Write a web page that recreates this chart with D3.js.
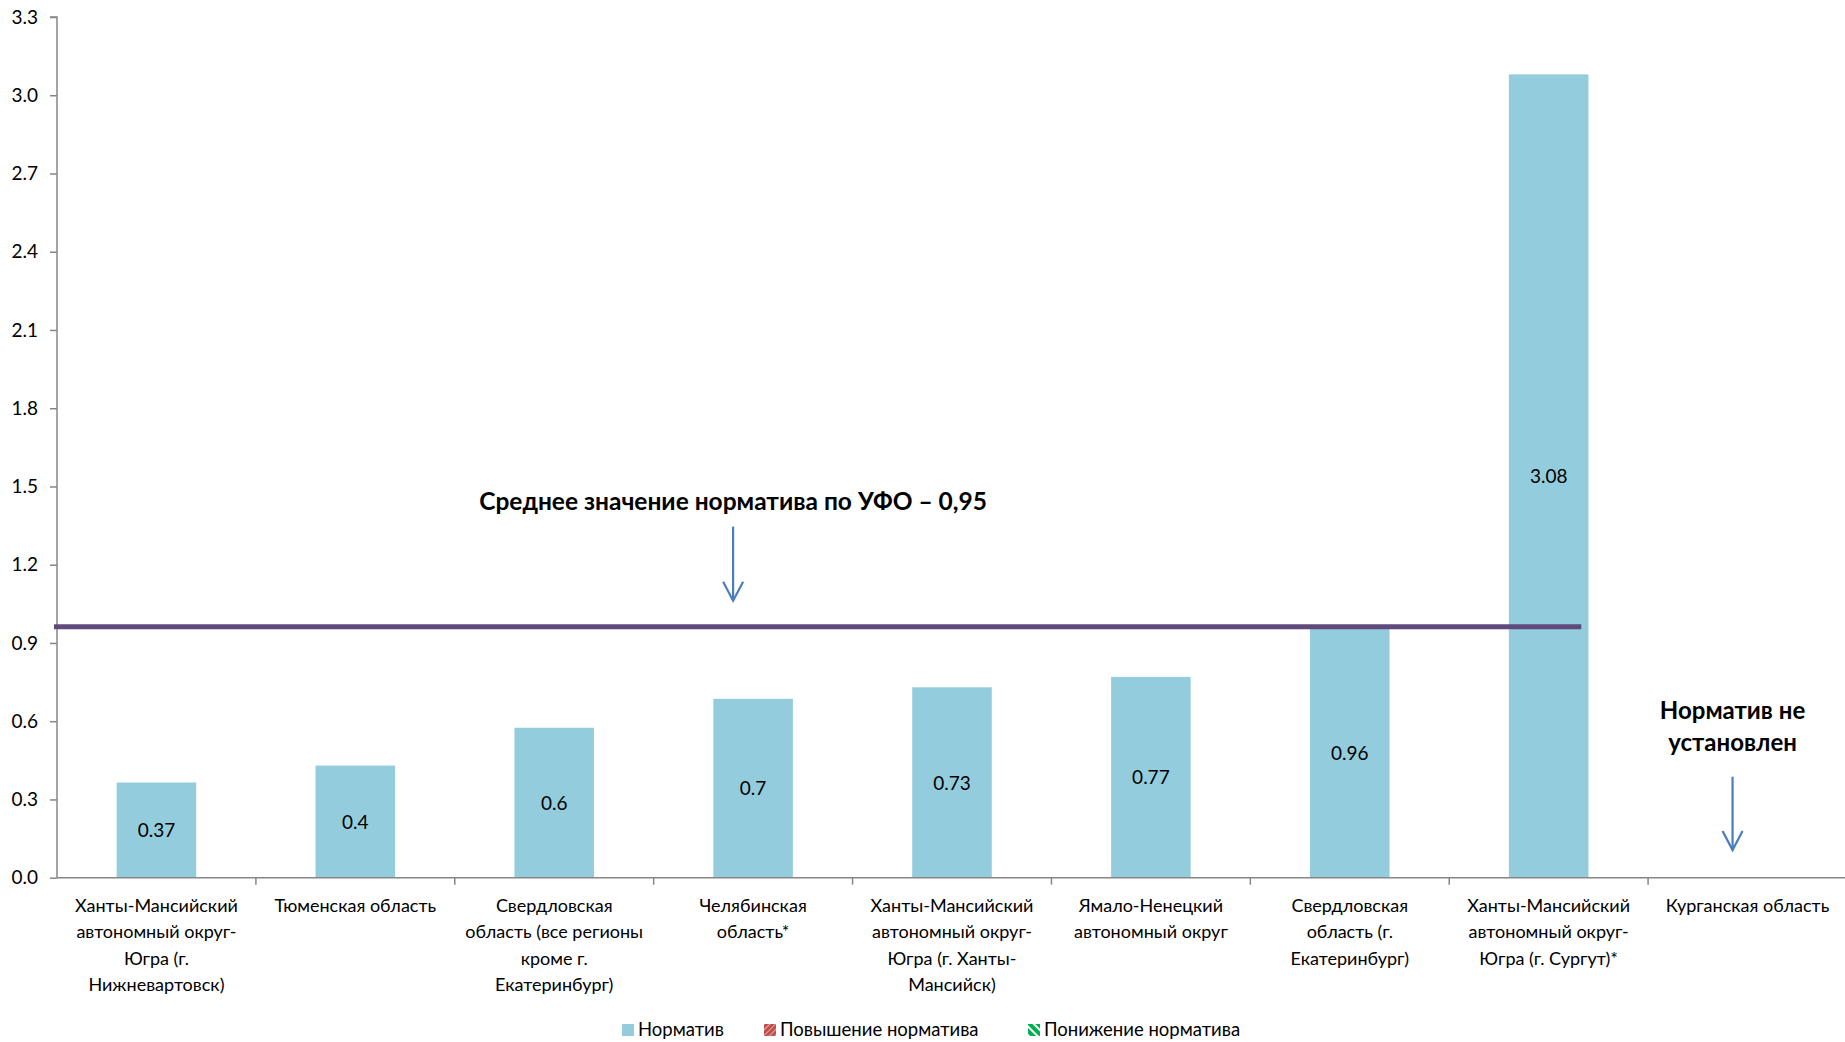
<!DOCTYPE html>
<html><head><meta charset="utf-8">
<script src="https://cdn.jsdelivr.net/npm/d3@7"></script>
<style>body{margin:0;background:#fff}svg{display:block}text{font-family:Lato,"Open Sans",sans-serif}</style>
</head><body>
<svg id="c" width="1845" height="1042"></svg>
<script>
const categories = [
  ["Ханты-Мансийский","автономный округ-","Югра (г.","Нижневартовск)"],
  ["Тюменская область"],
  ["Свердловская","область (все регионы","кроме г.","Екатеринбург)"],
  ["Челябинская","область*"],
  ["Ханты-Мансийский","автономный округ-","Югра (г. Ханты-","Мансийск)"],
  ["Ямало-Ненецкий","автономный округ"],
  ["Свердловская","область (г.","Екатеринбург)"],
  ["Ханты-Мансийский","автономный округ-","Югра (г. Сургут)*"],
  ["Курганская область"]
];
// bar heights as drawn in the picture, and the data labels printed on them
const values = [0.365, 0.43, 0.575, 0.686, 0.73, 0.77, 0.96, 3.08, null];
const valueLabels = ["0.37", "0.4", "0.6", "0.7", "0.73", "0.77", "0.96", "3.08", null];
const yTicks = [0, 0.3, 0.6, 0.9, 1.2, 1.5, 1.8, 2.1, 2.4, 2.7, 3.0, 3.3];
const avgValue = 0.962;
const avgLabel = "Среднее значение норматива по УФО – 0,95";
const noValueLabel = ["Норматив не", "установлен"];
const legendLabels = ["Норматив", "Повышение норматива", "Понижение норматива"];

const svg = d3.select("#c");
const M = {left:57, right:1847, top:17, bottom:877.7};
const ids = categories.map((c,i)=>i);
const x = d3.scaleBand().domain(ids).range([M.left, M.right]).paddingInner(0.6).paddingOuter(0.3);
const step = x.step();
const y = d3.scaleLinear().domain([0, 3.3]).range([M.bottom, M.top]);

const defs = svg.append("defs");
const f = defs.append("filter").attr("id","sh").attr("x","-5%").attr("y","-200%").attr("width","110%").attr("height","500%");
f.append("feGaussianBlur").attr("stdDeviation",1.5);
const p1 = defs.append("pattern").attr("id","pRed").attr("width",4).attr("height",4).attr("patternUnits","userSpaceOnUse").attr("patternTransform","rotate(45)");
p1.append("rect").attr("width",4).attr("height",4).attr("fill","#c0504d");
p1.append("rect").attr("width",1).attr("height",4).attr("fill","#e6a9a7");
const p2 = defs.append("pattern").attr("id","pGreen").attr("width",6).attr("height",6).attr("patternUnits","userSpaceOnUse").attr("patternTransform","rotate(-45)");
p2.append("rect").attr("width",6).attr("height",6).attr("fill","#00b050");
p2.append("rect").attr("width",2).attr("height",6).attr("fill","#fff");

const data = values.map((v,i)=>({v,i,l:valueLabels[i]})).filter(d=>d.v!=null);

// bars
svg.append("g").selectAll("rect").data(data)
  .join("rect").attr("x",d=>x(d.i)).attr("width",x.bandwidth())
  .attr("y",d=>y(d.v)).attr("height",d=>y(0)-y(d.v)).attr("fill","#93cddd");

// y axis
const ya = svg.append("g").attr("transform",`translate(${M.left},0)`)
  .call(d3.axisLeft(y).tickValues(yTicks).tickFormat(d3.format(".1f")).tickSize(7).tickPadding(12));
ya.select(".domain").attr("stroke","#868686").attr("stroke-width",1.5).attr("d",`M-7,${y(3.3)}H0V${y(0)}`);
ya.selectAll(".tick line").attr("stroke","#868686").attr("stroke-width",1.5);
ya.selectAll(".tick text").attr("font-size",19).attr("fill","#000").attr("font-family","Lato, sans-serif");

// x axis
const xg = svg.append("g");
xg.append("line").attr("x1",M.left).attr("x2",1845).attr("y1",y(0)).attr("y2",y(0)).attr("stroke","#868686").attr("stroke-width",1.5);
xg.selectAll("line.t").data(d3.range(categories.length)).join("line").attr("class","t")
  .attr("x1",i=>M.left+(i+1)*step).attr("x2",i=>M.left+(i+1)*step)
  .attr("y1",y(0)).attr("y2",y(0)+7).attr("stroke","#868686").attr("stroke-width",1.5);
categories.forEach((lines,i)=>{
  const t = xg.append("text").attr("text-anchor","middle").attr("font-size",18).attr("fill","#000");
  lines.forEach((l,j)=>t.append("tspan").attr("x",x(i)+x.bandwidth()/2).attr("y",y(0)+34+j*26.5).text(l));
});

// value labels
svg.append("g").selectAll("text").data(data)
  .join("text").attr("x",d=>x(d.i)+x.bandwidth()/2).attr("y",d=>(y(d.v)+y(0))/2+7)
  .attr("text-anchor","middle").attr("font-size",19).attr("fill","#000").text(d=>d.l);

// average line
const lx0 = M.left-3, lx1 = x(7)+x.bandwidth()*0.91;
svg.append("line").attr("x1",lx0).attr("x2",lx1).attr("y1",y(avgValue)+3).attr("y2",y(avgValue)+3)
  .attr("stroke","#888").attr("stroke-width",5).attr("opacity",0.6).attr("filter","url(#sh)");
svg.append("line").attr("x1",lx0).attr("x2",lx1).attr("y1",y(avgValue)).attr("y2",y(avgValue))
  .attr("stroke","#604a7b").attr("stroke-width",5);

// annotations
function arrow(cx, v0, v1){
  const g = svg.append("g").attr("stroke","#4a7ebb").attr("stroke-width",2.2).attr("fill","none");
  g.append("line").attr("x1",cx).attr("x2",cx).attr("y1",y(v0)).attr("y2",y(v1));
  g.append("path").attr("d",`M${cx-10},${y(v1)-19}L${cx},${y(v1)}L${cx+10},${y(v1)-19}`);
}
const ax1 = x(3)+x.bandwidth()/2-20;
svg.append("text").attr("x",ax1).attr("y",y(1.41)).attr("text-anchor","middle")
  .attr("font-size",24.5).attr("font-weight","bold").attr("fill","#000").text(avgLabel);
arrow(ax1, 1.346, 1.062);
const ax2 = x(8)+x.bandwidth()/2-15;
const nt = svg.append("text").attr("text-anchor","middle").attr("font-size",24).attr("font-weight","bold").attr("fill","#000");
noValueLabel.forEach((l,j)=>nt.append("tspan").attr("x",ax2).attr("y",y(0.61)+j*32).text(l));
arrow(ax2, 0.387, 0.106);

// legend
const lg = svg.append("g").attr("font-size",18.5);
const lxPos = [622, 764, 1028];
const fills = ["#93cddd","url(#pRed)","url(#pGreen)"];
legendLabels.forEach((l,i)=>{
  lg.append("rect").attr("x",lxPos[i]).attr("y",1024).attr("width",12).attr("height",12).attr("fill",fills[i]);
  lg.append("text").attr("x",lxPos[i]+16).attr("y",1036).attr("fill","#000").text(l);
});
</script>
</body></html>
